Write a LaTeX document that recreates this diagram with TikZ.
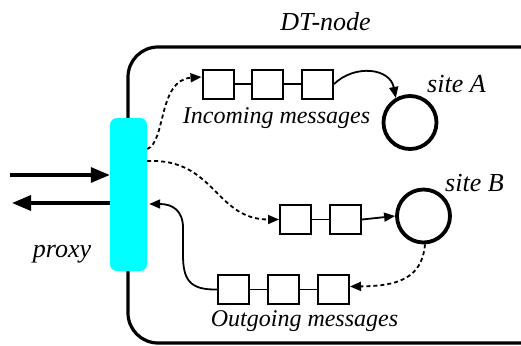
\documentclass[tikz,border=0pt]{standalone}
\usepackage{fontspec}
\setmainfont{Liberation Serif}
\usetikzlibrary{arrows.meta,calc}
\definecolor{proxycyan}{RGB}{0,255,255}
\tikzset{
  qbox/.style={draw, line width=2pt, fill=white, minimum width=31pt, minimum height=29pt, inner sep=0pt},
  site/.style={draw, circle, line width=3.8pt, minimum size=53pt, inner sep=0pt},
  link/.style={line width=1.8pt},
  flow/.style={line width=1.8pt, -{Triangle[length=11pt,width=9pt]}},
  dflow/.style={flow, dash pattern=on 4pt off 3pt},
  bigflow/.style={line width=3.2pt, -{Triangle[length=19pt,width=15pt]}},
  lbl/.style={font=\itshape\fontsize{26}{26}\selectfont, inner sep=0pt},
  qlbl/.style={font=\itshape\fontsize{24}{24}\selectfont, inner sep=0pt}
}
\begin{document}
\begin{tikzpicture}[x=1pt,y=-1pt]
\useasboundingbox (0,0) rectangle (521,345);

% the DT-node enclosure, open to the right
\draw[line width=3.2pt, rounded corners=30pt] (530,47) -- (128,47) -- (128,343) -- (530,343);
\node[lbl] (title) at (325.5,22) {DT-node};

% proxy
\node[fill=proxycyan, rounded corners=7pt, minimum width=37pt, minimum height=153pt, inner sep=0pt] (proxy) at (128.5,194.5) {};
\node[lbl] (plbl) at (62,254) {proxy};

% external traffic
\coordinate (extIn) at (10,175);
\coordinate (extOut) at (12,203);
\draw[bigflow] (extIn) -- (extIn -| proxy.west);
\draw[bigflow] (extOut -| proxy.west) -- (extOut);

% incoming queue
\node[qbox] (i1) at (218,84) {};
\node[qbox] (i2) at (267,84) {};
\node[qbox] (i3) at (317.5,84) {};
\draw[link] (i1) -- (i2) (i2) -- (i3);
\node[qlbl] (ilbl) at (276.5,118) {Incoming messages};

% middle queue
\node[qbox] (m1) at (295.5,219.5) {};
\node[qbox] (m2) at (345.5,219.5) {};
\draw[link] (m1) -- (m2);

% outgoing queue
\node[qbox] (o1) at (233.5,289.5) {};
\node[qbox] (o2) at (283.5,289.5) {};
\node[qbox] (o3) at (333.5,289.5) {};
\draw[link] (o1) -- (o2) (o2) -- (o3);
\node[qlbl] (olbl) at (304.5,321) {Outgoing messages};

% sites
\node[site] (A) at (410,122.5) {};
\node[site] (B) at (423.5,216) {};
\node[lbl, anchor=west] (albl) at (427,84) {site A};
\node[lbl, anchor=west] (blbl) at (445,183) {site B};

% connectors
\draw[dflow] ($(proxy.east)+(0,-45.5)$) .. controls (166,142) and (158,80) .. ($(i1.west)+(0,-7)$);
\draw[dflow] ($(proxy.east)+(0,-33.5)$) .. controls (215,158) and (215,219.5) .. (m1.west);
\draw[flow] (i3.east) .. controls (355,64) and (390,68) .. (A.120);
\draw[flow] (m2.east) -- (B.west);
\draw[dflow] (B.-87) .. controls (422,280) and (395,286) .. ($(o3.east)+(0,-3)$);
\draw[flow] (o1.west) .. controls (190,290) and (183,280) .. (183,255) -- (183,228)
  .. controls (183,210) and (172,204) .. ($(proxy.east)+(2,9.5)$);
\end{tikzpicture}
\end{document}
